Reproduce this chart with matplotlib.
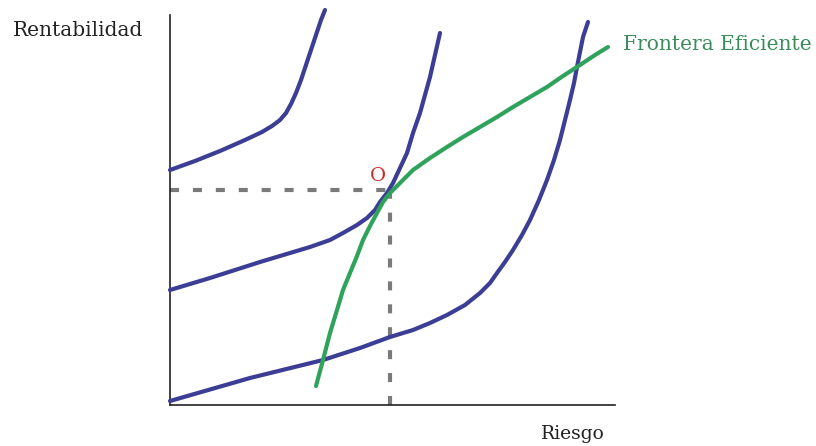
import matplotlib.pyplot as plt

# coordinates (risk on x, return on y, arbitrary units)
curve1_x = [0, 25, 50, 75, 92, 102, 110, 116, 121, 126, 131, 136, 141, 146, 151, 155]
curve1_y = [235, 244, 254, 265, 273, 279, 285, 292, 301, 312, 325, 340, 355, 370, 385, 395]

curve2_x = [0, 40, 90, 140, 160, 173, 187, 197, 205, 210, 217, 223, 230, 237, 243, 250,
            255, 260, 265, 270]
curve2_y = [115, 127, 143, 158, 165, 172, 180, 187, 195, 203, 212, 222, 237, 252, 272, 292,
            310, 328, 350, 372]

curve3_x = [0, 80, 153, 190, 220, 243, 260, 277, 295, 310, 320, 327, 335, 343, 352, 360,
            369, 377, 384, 390, 395, 400, 404, 407, 410, 413, 418]
curve3_y = [4, 27, 45, 57, 68, 75, 82, 90, 100, 112, 122, 132, 143, 155, 170, 185,
            205, 225, 245, 265, 285, 305, 322, 338, 353, 368, 383]

frontier_x = [146, 153, 160, 167, 173, 180, 187, 193, 200, 207, 213, 220, 230, 243, 260, 277,
              293, 310, 327, 343, 360, 377, 393, 410, 425, 438]
frontier_y = [19, 45, 72, 95, 115, 132, 149, 165, 179, 192, 203, 212, 222, 235, 247, 258,
              268, 278, 288, 298, 308, 318, 329, 340, 350, 358]

opt_x = 220
opt_y = 215

blue = '#3b3e94'
green = '#2fa35c'

plt.rcParams['lines.scale_dashes'] = False

fig = plt.figure(figsize=(8.16, 4.46), dpi=100)
ax = fig.add_axes([170 / 816, 41 / 446, 445 / 816, 390 / 446])
ax.set_xlim(0, 445)
ax.set_ylim(0, 390)

for xs, ys in [(curve1_x, curve1_y), (curve2_x, curve2_y), (curve3_x, curve3_y)]:
    ax.plot(xs, ys, color=blue, lw=3, solid_capstyle='round', solid_joinstyle='round',
            clip_on=False, zorder=3)

ax.plot(frontier_x, frontier_y, color=green, lw=3, solid_capstyle='round',
        solid_joinstyle='round', clip_on=False, zorder=4)

ax.plot([0, opt_x], [opt_y, opt_y], color='#7a7a7a', lw=3, dashes=(6.5, 10), zorder=2)
ax.plot([opt_x, opt_x], [0, opt_y], color='#7a7a7a', lw=3, dashes=(6.5, 10), zorder=2)

ax.text(opt_x - 12, opt_y + 5, 'O', color='#cc2b2b', fontsize=14,
        family='DejaVu Serif', ha='center', va='bottom')

for side in ['top', 'right']:
    ax.spines[side].set_visible(False)
for side in ['left', 'bottom']:
    ax.spines[side].set_color('#222222')
    ax.spines[side].set_linewidth(1.2)
ax.set_xticks([])
ax.set_yticks([])
ax.patch.set_alpha(0)

fig.text(13 / 816, 1 - 31 / 446, 'Rentabilidad', fontsize=14.5, family='DejaVu Serif',
         color='#222222', ha='left', va='center')
fig.text(605 / 816, 1 - 434 / 446, 'Riesgo', fontsize=13.5, family='DejaVu Serif',
         color='#222222', ha='right', va='center')
fig.text(623 / 816, 1 - 45 / 446, 'Frontera Eficiente', fontsize=14.5, family='DejaVu Serif',
         color='#3a8c5c', ha='left', va='center')

fig.savefig('out.png', dpi=100)
